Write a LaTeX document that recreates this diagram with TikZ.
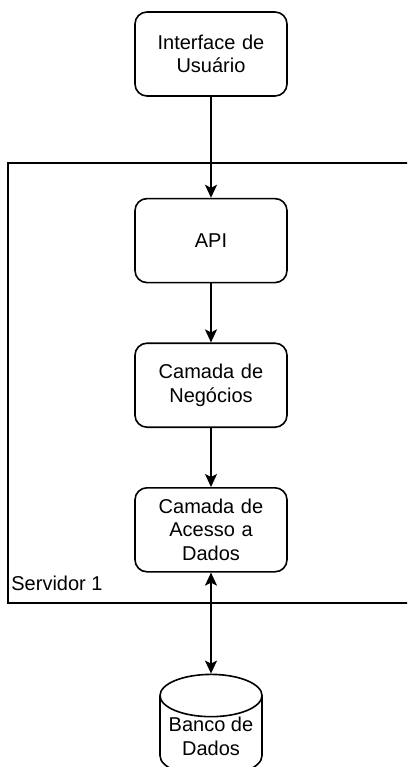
\documentclass[tikz,border=0pt]{standalone}
\usepackage{fontspec}
\setmainfont{Liberation Sans}
\usepackage{tikz}
\usetikzlibrary{shapes.geometric, arrows.meta, positioning}
\tikzset{layer/.style={rectangle,draw,line width=1.6pt,rounded corners=12pt,align=center,text width=140pt,minimum width=152pt,minimum height=84pt,inner sep=0pt,font=\fontsize{20}{23.5}\selectfont},
         server/.style={rectangle,draw,line width=1.6pt,inner sep=0pt},
         database/.style={cylinder,draw,line width=1.6pt,shape border rotate=90,aspect=0.5,minimum width=102pt,minimum height=97pt,align=center,inner sep=0pt,font=\fontsize{20}{23.5}\selectfont},
         arrow/.style={-{Stealth[length=13pt,width=12pt,inset=3pt]},line width=1.6pt}}

\begin{document}
\begin{tikzpicture}[x=1pt,y=1pt,node distance=59pt]
    \useasboundingbox (0,0) rectangle (407,-767);
    \clip (0,0) rectangle (407,-767);
    % Server frame
    \node (servidor) [server, minimum width=430pt, minimum height=440pt] at (223,-383) {};
    \node[anchor=south west, inner sep=0pt, font=\fontsize{20}{23.5}\selectfont] (srvlabel) at ([shift={(4pt,13pt)}]servidor.south west) {Servidor 1};
    % Layers
    \node (ui) [layer] at (211,-54) {Interface de\\Usuário};
    \node (api) [layer, below=101pt of ui] {API};
    \node (negocios) [layer, below=of api] {Camada de\\Negócios};
    \node (acesso) [layer, below=of negocios] {Camada de\\Acesso a\\Dados};
    % Database
    \node (banco) [database, below=101pt of acesso] {Banco de\\Dados};
    % Connections
    \draw[arrow] (ui) -- (api);
    \draw[arrow] (api) -- (negocios);
    \draw[arrow] (negocios) -- (acesso);
    \draw[arrow, {Stealth[length=13pt,width=12pt,inset=3pt]}-{Stealth[length=13pt,width=12pt,inset=3pt]}] (acesso) -- (banco);
\end{tikzpicture}
\end{document}
